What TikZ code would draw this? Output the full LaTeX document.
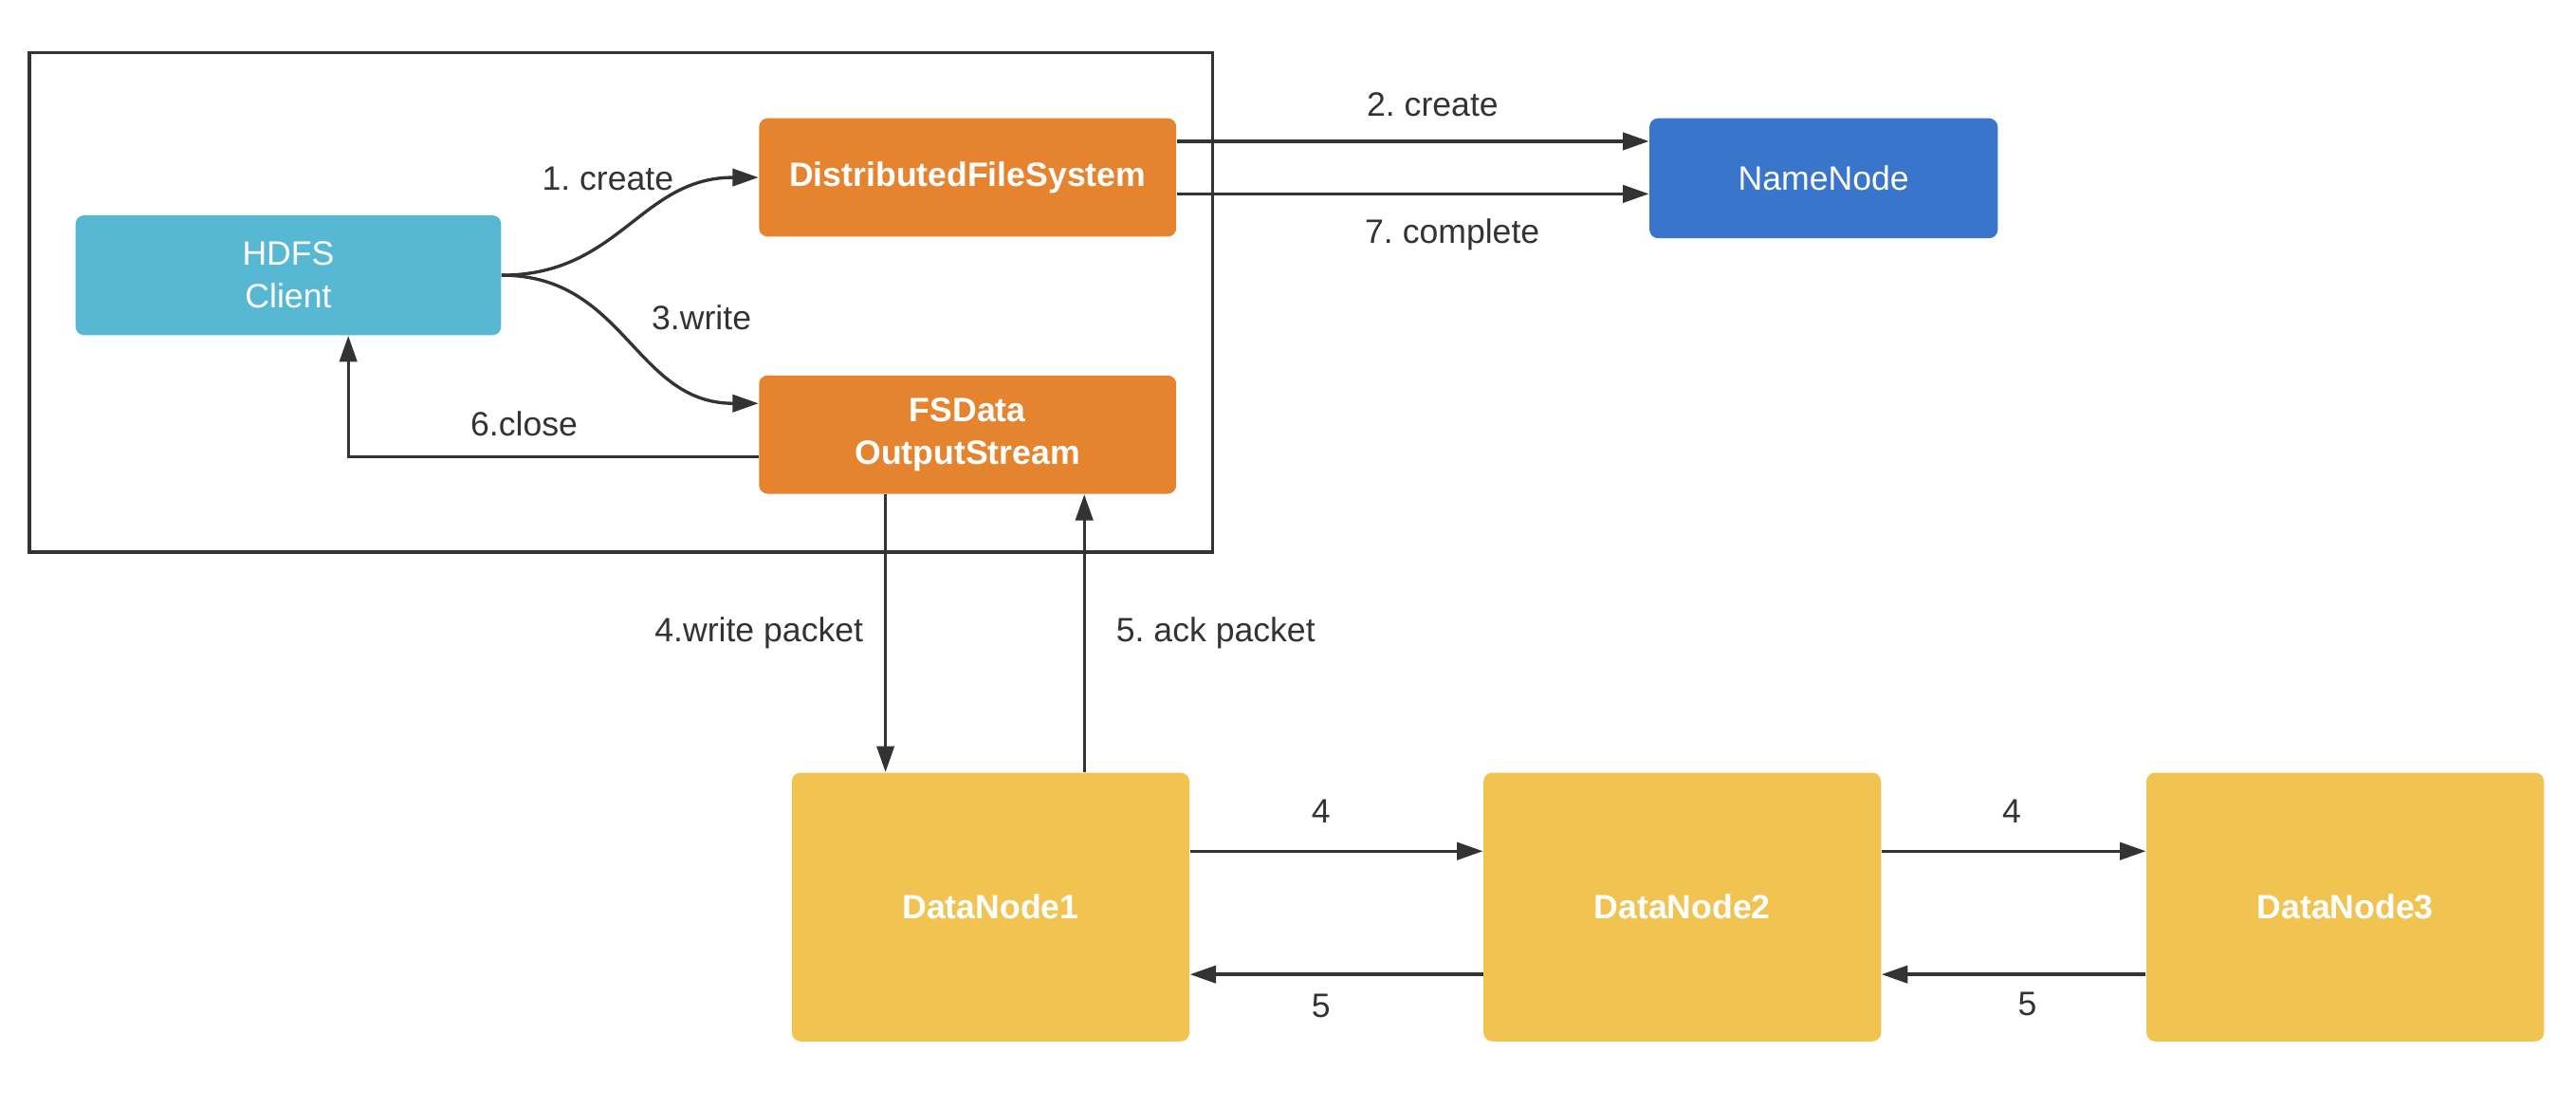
\documentclass[tikz,border=0pt]{standalone}
\usepackage{fontspec}
\setmainfont{Liberation Sans}
\usetikzlibrary{arrows.meta, calc}
\definecolor{clientcyan}{HTML}{56B8D3}
\definecolor{fsorange}{HTML}{E6832F}
\definecolor{nnblue}{HTML}{3A75CC}
\definecolor{dnyellow}{HTML}{F1C350}
\definecolor{inkgray}{HTML}{333333}
\newcommand{\diafont}{\fontsize{11.7pt}{14.8pt}\selectfont}
\frenchspacing

\begin{document}
\begin{tikzpicture}[font=\diafont,>={Triangle[length=9pt,width=6pt]},
  box/.style={rounded corners=3pt,text=white,align=center,inner sep=0pt},
  boldbox/.style={box,font=\diafont\bfseries},
  dnbox/.style={boldbox,fill=dnyellow,minimum width=4.84cm,minimum height=3.27cm},
  arr/.style={->,inkgray,line width=1.1pt},
  lbl/.style={text=inkgray,inner sep=0pt}]
\useasboundingbox (0,0) rectangle (31.36,13.48);
\draw[inkgray,line width=1.2pt] (0.36,6.76) rectangle (14.76,12.84);
% client side
\node[box,fill=clientcyan,minimum width=5.18cm,minimum height=1.46cm] (client) at (3.51,10.13) {HDFS\\Client};
\node[boldbox,fill=fsorange,minimum width=5.08cm,minimum height=1.44cm] (dfs) at (11.78,11.32) {DistributedFileSystem};
\node[boldbox,fill=fsorange,minimum width=5.08cm,minimum height=1.44cm] (fsd) at (11.78,8.19) {FSData\\OutputStream};
\node[box,fill=nnblue,minimum width=4.24cm,minimum height=1.46cm] (nn) at (22.2,11.31) {NameNode};
% pipeline
\foreach \i/\x in {1/12.06,2/20.48,3/28.55}{\node[dnbox] (dn\i) at (\x,2.44) {DataNode\i};}
\draw[arr] (client.east) to[out=0,in=180,looseness=1.1] (dfs.west);\draw[arr] (client.east) to[out=0,in=180,looseness=1.1] ([yshift=0.38cm]fsd.west);
\draw[arr] ([yshift=-0.27cm]fsd.west) -| ([xshift=0.73cm]client.south);
\draw[arr] ([yshift=0.44cm]dfs.east) -- ([yshift=0.44cm]dfs.east -| nn.west);\draw[arr] ([yshift=-0.2cm]dfs.east) -- ([yshift=-0.2cm]dfs.east -| nn.west);
\draw[arr] ([xshift=-1cm]fsd.south) -- ([xshift=-1cm]fsd.south |- dn1.north);\draw[arr] ([xshift=1.42cm]fsd.south |- dn1.north) -- ([xshift=1.42cm]fsd.south);
\foreach \a/\b in {1/2,2/3}{\draw[arr] ([yshift=0.68cm]dn\a.east) -- ([yshift=0.68cm]dn\a.east -| dn\b.west);\draw[arr] ([yshift=-0.82cm]dn\b.west) -- ([yshift=-0.82cm]dn\b.west -| dn\a.east);}
% labels
\node[lbl] (lcreate) at (7.40,11.31) {1. create};\node[lbl] (lnncreate) at (17.44,12.21) {2. create};\node[lbl] (lwrite) at (8.54,9.62) {3.write};
\node[lbl] (lpacket) at (9.24,5.77) {4.write packet};\node[lbl] (lack) at (14.8,5.77) {5. ack packet};\node[lbl] (lclose) at (6.38,8.32) {6.close};
\node[lbl] (lcomplete) at (17.68,10.63) {7. complete};
\node[lbl] (lfwd) at (16.08,3.61) {4};\node[lbl] (lback) at (16.08,1.24) {5};\node[lbl] (lfwdb) at (24.49,3.61) {4};\node[lbl] (lbackb) at (24.68,1.26) {5};
\end{tikzpicture}
\end{document}
